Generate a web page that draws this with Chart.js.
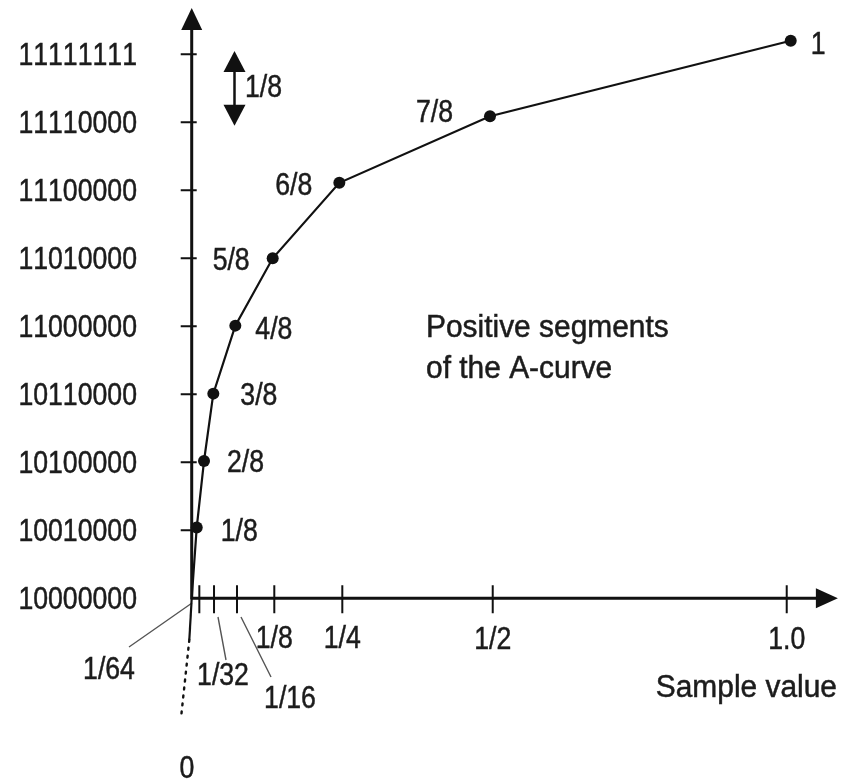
<!DOCTYPE html>
<html>
<head>
<meta charset="utf-8">
<script src="https://cdn.jsdelivr.net/npm/chart.js@4.4.1/dist/chart.umd.min.js"></script>
<style>
  html, body { margin: 0; padding: 0; background: #fff; }
  canvas { display: block; }
</style>
</head>
<body>
<canvas id="aCurve" width="842" height="781"></canvas>
<script>
// Values (x in "drawn" sample units, 1.0 at the last tick)
const levelLabels = ['1/8', '2/8', '3/8', '4/8', '5/8', '6/8', '7/8', '1'];
const sampleX = [0.0084, 0.0207, 0.0363, 0.0733, 0.1361, 0.2481, 0.5013, 1.0067];
const levelY = [1.04, 2.02, 3.01, 4.01, 5.0, 6.11, 7.09, 8.2];

// Short continuation of the curve below the origin (solid, then dotted to "0")
const tailX = [0, -0.004, -0.018];
const tailY = [0, -0.61, -1.76];

const yTickValues = [0, 1, 2, 3, 4, 5, 6, 7, 8];
const yTickLabels = ['10000000', '10010000', '10100000', '10110000', '11000000',
                     '11010000', '11100000', '11110000', '11111111'];
const xTickValues = [0.0128, 0.0375, 0.0761, 0.1388, 0.2531, 0.5059, 1.0];
const xTickLabels = ['1/64', '1/32', '1/16', '1/8', '1/4', '1/2', '1.0'];

// condensed look: a regular sans squeezed horizontally
const FONT = "31px 'Liberation Sans', Arimo, Arial, sans-serif";
const NUM_SQUEEZE = 0.86;
const WORD_SQUEEZE = 0.965;
const INK = '#111';
const TEXT = '#1c1c1c';

// Label placement relative to each point (px)
const pointLabelPos = [
    { dx: 24, dy: 13, align: 'left' },
    { dx: 23, dy: 11, align: 'left' },
    { dx: 27, dy: 11, align: 'left' },
    { dx: 20, dy: 13, align: 'left' },
    { dx: -23, dy: 12, align: 'right' },
    { dx: -27, dy: 12, align: 'right' },
    { dx: -37, dy: 6, align: 'right' },
    { dx: 20, dy: 13, align: 'left' }
];

// Tick label placement relative to tick (px), with optional leader line
const xTickLabelPos = [
    { x: 109, dy: 81, leader: [129, 647, 192, 603] },
    { x: 223, dy: 87, leader: [218, 617, 226, 660] },
    { x: 290, dy: 110, leader: [241, 617, 271, 677] },
    { dy: 50 }, { dy: 50 }, { dy: 51 }, { dy: 51 }
];

function squeezedText(ctx, text, x, y, align, squeeze) {
    ctx.save();
    ctx.translate(x, y);
    ctx.scale(squeeze, 1);
    ctx.textAlign = align;
    ctx.fillText(text, 0, 0);
    ctx.strokeText(text, 0, 0);
    ctx.restore();
}

const axesPlugin = {
    id: 'axesPlugin',
    beforeDatasetsDraw(chart) {
        const { ctx, scales: { x, y } } = chart;
        const x0 = x.getPixelForValue(0);
        const y0 = y.getPixelForValue(0);
        const yTop = y.getPixelForValue(8.68);
        const xEnd = x.getPixelForValue(1.086);
        ctx.save();
        ctx.strokeStyle = INK;
        ctx.fillStyle = INK;

        // axes
        ctx.lineWidth = 3;
        ctx.beginPath();
        ctx.moveTo(x0, y0 + 1);
        ctx.lineTo(x0, yTop + 20);
        ctx.moveTo(x0 - 1, y0);
        ctx.lineTo(xEnd - 20, y0);
        ctx.stroke();

        // arrow heads
        ctx.beginPath();
        ctx.moveTo(x0, yTop);
        ctx.lineTo(x0 - 10.5, yTop + 22);
        ctx.lineTo(x0 + 10.5, yTop + 22);
        ctx.closePath();
        ctx.fill();
        ctx.beginPath();
        ctx.moveTo(xEnd, y0);
        ctx.lineTo(xEnd - 22, y0 - 10);
        ctx.lineTo(xEnd - 22, y0 + 10);
        ctx.closePath();
        ctx.fill();

        // ticks
        ctx.lineWidth = 2;
        ctx.beginPath();
        yTickValues.slice(1).forEach(v => {
            const py = y.getPixelForValue(v);
            ctx.moveTo(x0 - 11, py);
            ctx.lineTo(x0 + 5, py);
        });
        xTickValues.forEach(v => {
            const px = x.getPixelForValue(v);
            ctx.moveTo(px, y0 - 13);
            ctx.lineTo(px, y0 + 15);
        });
        ctx.stroke();

        // leader lines
        ctx.strokeStyle = '#555';
        ctx.lineWidth = 1.4;
        ctx.beginPath();
        xTickLabelPos.forEach(p => {
            if (!p.leader) return;
            ctx.moveTo(p.leader[0], p.leader[1]);
            ctx.lineTo(p.leader[2], p.leader[3]);
        });
        ctx.stroke();

        // scale indicator: double arrow of one step
        const sx = 234.5;
        const sTop = y.getPixelForValue(8.05);
        const sBot = y.getPixelForValue(6.95);
        ctx.strokeStyle = INK;
        ctx.fillStyle = INK;
        ctx.lineWidth = 2.5;
        ctx.beginPath();
        ctx.moveTo(sx, sTop + 18);
        ctx.lineTo(sx, sBot - 18);
        ctx.stroke();
        ctx.beginPath();
        ctx.moveTo(sx, sTop);
        ctx.lineTo(sx - 11, sTop + 21);
        ctx.lineTo(sx + 11, sTop + 21);
        ctx.closePath();
        ctx.fill();
        ctx.beginPath();
        ctx.moveTo(sx, sBot);
        ctx.lineTo(sx - 11, sBot - 21);
        ctx.lineTo(sx + 11, sBot - 21);
        ctx.closePath();
        ctx.fill();
        ctx.restore();
    },
    afterDatasetsDraw(chart) {
        const { ctx, scales: { x, y } } = chart;
        const y0 = y.getPixelForValue(0);
        ctx.save();
        ctx.font = FONT;
        ctx.fontKerning = 'none';
        ctx.fillStyle = TEXT;
        ctx.strokeStyle = TEXT;
        ctx.lineWidth = 0.5;
        ctx.textBaseline = 'alphabetic';

        // y tick labels
        yTickValues.forEach((v, i) => {
            squeezedText(ctx, yTickLabels[i], 137, y.getPixelForValue(v) + 11, 'right', NUM_SQUEEZE);
        });

        // x tick labels
        xTickValues.forEach((v, i) => {
            const px = x.getPixelForValue(v);
            const p = xTickLabelPos[i];
            squeezedText(ctx, xTickLabels[i], p.x !== undefined ? p.x : px, y0 + p.dy, 'center', NUM_SQUEEZE);
        });
        squeezedText(ctx, '0', 187, 778, 'center', NUM_SQUEEZE);

        // point labels
        sampleX.forEach((v, i) => {
            const p = pointLabelPos[i];
            squeezedText(ctx, levelLabels[i], x.getPixelForValue(v) + p.dx,
                y.getPixelForValue(levelY[i]) + p.dy, p.align, NUM_SQUEEZE);
        });

        // captions
        squeezedText(ctx, '1/8', 245, 97, 'left', NUM_SQUEEZE);
        squeezedText(ctx, 'Positive segments', 426, 337, 'left', WORD_SQUEEZE);
        squeezedText(ctx, 'of the A-curve', 426, 378, 'left', WORD_SQUEEZE);
        squeezedText(ctx, 'Sample value', 837, 697, 'right', WORD_SQUEEZE);
        ctx.restore();
    }
};

const curvePoints = [{ x: 0, y: 0 }].concat(sampleX.map((v, i) => ({ x: v, y: levelY[i] })));

new Chart(document.getElementById('aCurve'), {
    type: 'line',
    data: {
        datasets: [
            {
                label: 'A-curve',
                data: curvePoints,
                borderColor: INK,
                backgroundColor: INK,
                borderWidth: 2.2,
                pointRadius: curvePoints.map((p, i) => i === 0 ? 0 : 6),
                pointBorderWidth: 0,
                pointHoverRadius: 0,
                tension: 0,
                clip: false
            },
            {
                label: 'tail',
                data: tailX.slice(0, 2).map((v, i) => ({ x: v, y: tailY[i] })),
                borderColor: INK,
                borderWidth: 2.2,
                pointRadius: 0,
                clip: false
            },
            {
                label: 'tail dotted',
                data: tailX.slice(1).map((v, i) => ({ x: v, y: tailY[i + 1] })),
                borderColor: INK,
                borderWidth: 2.4,
                borderDash: [2, 6],
                borderCapStyle: 'round',
                pointRadius: 0,
                clip: false
            }
        ]
    },
    options: {
        responsive: false,
        animation: false,
        events: [],
        layout: { padding: 0, autoPadding: false },
        plugins: {
            legend: { display: false },
            tooltip: { enabled: false }
        },
        scales: {
            x: { type: 'linear', display: false, min: -0.3222, max: 1.0929 },
            y: { type: 'linear', display: false, min: -2.687, max: 8.799 }
        }
    },
    plugins: [axesPlugin]
});
</script>
</body>
</html>
